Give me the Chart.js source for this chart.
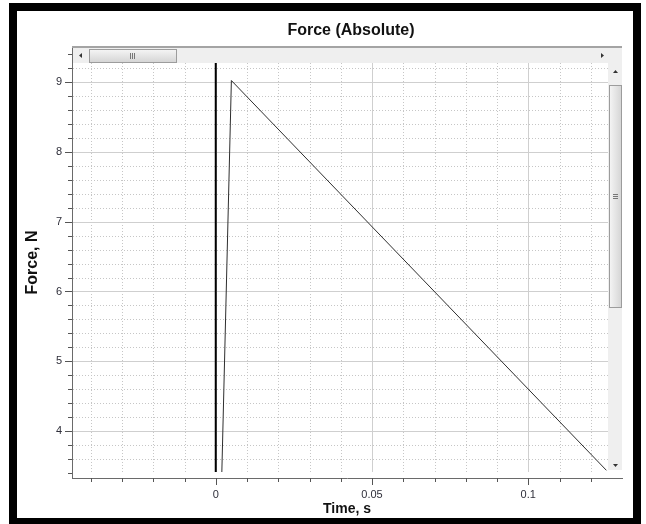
<!DOCTYPE html>
<html>
<head>
<meta charset="utf-8">
<script src="https://cdn.jsdelivr.net/npm/chart.js@4.4.0/dist/chart.umd.min.js"></script>
<style>
    html, body { margin: 0; padding: 0; background: #fff; }
    #wrap { position: absolute; left: 0; top: 0; width: 646px; height: 524px; }
</style>
</head>
<body>
<div id="wrap"><canvas id="grafica" width="646" height="524"></canvas></div>
<script>
// Valores (tiempo en s, fuerza en N)
const tiempo = [0.0019, 0.005, 0.125]
const fuerza = [3.33, 9.02, 3.44]

// Línea vertical negra en t = 0
const ceroX = [0, 0]
const ceroY = [3.3, 9.5]

// Etiquetas de los ejes
const ticksX = [0, 0.05, 0.1]
const ticksY = [4, 5, 6, 7, 8, 9]

const titulo = 'Force (Absolute)'
const tituloX = 'Time, s'
const tituloY = 'Force, N'

Chart.defaults.font.family = "'Liberation Sans', Arial, sans-serif"

// zona de la rejilla (el resto lo tapan las barras de desplazamiento)
function zonaGrid(a) {
    return { left: a.left + 1, right: a.right - 14, top: a.top + 16, bottom: a.bottom - 6 }
}

// Dibujo del marco, rejilla, barras de desplazamiento y marcas de los ejes
const decoracion = {
    id: 'decoracion',
    beforeDraw(chart) {
        const c = chart.ctx
        c.save()
        c.fillStyle = '#fff'
        c.fillRect(0, 0, chart.width, chart.height)
        c.fillStyle = '#000'
        c.fillRect(9, 3, 632, 8)
        c.fillRect(9, 3, 8, 521)
        c.fillRect(633, 3, 8, 521)
        c.fillRect(9, 518, 632, 6)
        c.restore()
    },
    beforeDatasetsDraw(chart) {
        const c = chart.ctx
        const a = chart.chartArea
        const g = zonaGrid(a)
        const x = chart.scales.x
        const y = chart.scales.y
        c.save()
        c.beginPath()
        c.rect(g.left, g.top, g.right - g.left, g.bottom - g.top)
        c.clip()
        c.lineWidth = 1
        x.ticks.forEach(t => {
            const px = Math.round(x.getPixelForValue(t.value)) + 0.5
            const mayor = ticksX.includes(t.value)
            c.strokeStyle = mayor ? '#cfcfcf' : '#c6c6c6'
            c.setLineDash(mayor ? [] : [1, 2])
            c.beginPath(); c.moveTo(px, g.top); c.lineTo(px, g.bottom); c.stroke()
        })
        y.ticks.forEach(t => {
            const py = Math.round(y.getPixelForValue(t.value)) + 0.5
            const mayor = ticksY.includes(t.value)
            c.strokeStyle = mayor ? '#cfcfcf' : '#c6c6c6'
            c.setLineDash(mayor ? [] : [1, 2])
            c.beginPath(); c.moveTo(g.left, py); c.lineTo(g.right, py); c.stroke()
        })
        c.restore()
    },
    afterDatasetsDraw(chart) {
        const c = chart.ctx
        const a = chart.chartArea
        const g = zonaGrid(a)
        c.save()
        // hueco blanco bajo la rejilla
        c.fillStyle = '#fff'
        c.fillRect(a.left + 1, g.bottom, a.right - a.left, a.bottom - g.bottom)
        // barra horizontal
        c.fillStyle = '#efefef'
        c.fillRect(a.left + 1, a.top, a.right - a.left - 1, 16)
        c.fillStyle = '#a4a4a4'
        c.fillRect(a.left, a.top - 1, a.right - a.left, 2)
        let grad = c.createLinearGradient(0, a.top + 2, 0, a.top + 15)
        grad.addColorStop(0, '#f6f6f6')
        grad.addColorStop(1, '#d6d6d6')
        c.fillStyle = grad
        c.fillRect(89, a.top + 2, 87, 13)
        c.strokeStyle = '#9c9c9c'
        c.strokeRect(89.5, a.top + 2.5, 87, 13)
        c.fillStyle = '#777'
        for (let i = 0; i < 3; i++) c.fillRect(130 + i * 2, a.top + 6, 1, 6)
        c.fillStyle = '#333'
        c.beginPath(); c.moveTo(79, a.top + 8.5); c.lineTo(82, a.top + 6); c.lineTo(82, a.top + 11); c.fill()
        c.beginPath(); c.moveTo(604, a.top + 8.5); c.lineTo(601, a.top + 6); c.lineTo(601, a.top + 11); c.fill()
        // barra vertical
        c.fillStyle = '#efefef'
        c.fillRect(g.right, g.top, 14, g.bottom - g.top - 2)
        grad = c.createLinearGradient(g.right + 1, 0, g.right + 13, 0)
        grad.addColorStop(0, '#f6f6f6')
        grad.addColorStop(1, '#d6d6d6')
        c.fillStyle = grad
        c.fillRect(g.right + 1, 85, 12, 222)
        c.strokeStyle = '#9c9c9c'
        c.strokeRect(g.right + 1.5, 85.5, 12, 222)
        c.fillStyle = '#777'
        for (let i = 0; i < 3; i++) c.fillRect(g.right + 5, 194 + i * 2, 5, 1)
        c.fillStyle = '#333'
        c.beginPath(); c.moveTo(g.right + 7.5, 70); c.lineTo(g.right + 5, 73); c.lineTo(g.right + 10, 73); c.fill()
        c.beginPath(); c.moveTo(g.right + 7.5, 467); c.lineTo(g.right + 5, 464); c.lineTo(g.right + 10, 464); c.fill()
        c.restore()
    },
    afterDraw(chart) {
        const c = chart.ctx
        const a = chart.chartArea
        const x = chart.scales.x
        const y = chart.scales.y
        c.save()
        c.strokeStyle = '#555'
        c.lineWidth = 1
        x.ticks.forEach(t => {
            const px = Math.round(x.getPixelForValue(t.value)) + 0.5
            const largo = ticksX.includes(t.value) ? 7 : 4
            c.beginPath(); c.moveTo(px, a.bottom); c.lineTo(px, a.bottom + largo); c.stroke()
        })
        y.ticks.forEach(t => {
            const py = Math.round(y.getPixelForValue(t.value)) + 0.5
            const largo = ticksY.includes(t.value) ? 7 : 4
            c.beginPath(); c.moveTo(a.left, py); c.lineTo(a.left - largo, py); c.stroke()
        })
        // título
        c.fillStyle = '#111'
        c.font = "bold 16px 'Liberation Sans', Arial, sans-serif"
        c.textAlign = 'center'
        c.textBaseline = 'middle'
        c.fillText(titulo, 351, 31)
        c.restore()
    }
}

let ctx = document.getElementById('grafica')
const config = {
    type: 'line',
    data: {
        datasets: [{
            label: 'Force',
            data: tiempo.map((t, i) => ({ x: t, y: fuerza[i] })),
            borderColor: '#2e2e2e',
            borderWidth: 1,
            pointRadius: 0,
            tension: 0
        },
        {
            label: 't = 0',
            data: ceroX.map((t, i) => ({ x: t, y: ceroY[i] })),
            borderColor: '#000',
            borderWidth: 2,
            pointRadius: 0
        }]
    },
    options: {
        responsive: false,
        animation: false,
        devicePixelRatio: 1,
        layout: { padding: { top: 47, left: 17, right: 24, bottom: 6 } },
        plugins: {
            legend: { display: false },
            tooltip: { enabled: false },
            title: { display: false }
        },
        scales: {
            x: {
                type: 'linear',
                min: -0.046,
                max: 0.13,
                afterBuildTicks: (scale) => {
                    const t = []
                    for (let i = -4; i <= 12; i++) t.push({ value: Math.round(i) / 100 })
                    scale.ticks = t
                },
                afterFit: (scale) => { scale.height = 40 },
                ticks: {
                    autoSkip: false,
                    maxRotation: 0,
                    padding: 3,
                    color: '#2f2f3a',
                    font: { size: 11 },
                    callback: (v) => ticksX.includes(v) ? String(v) : ''
                },
                grid: { drawOnChartArea: false, tickLength: 7, tickColor: 'transparent' },
                border: { color: '#6a6a6a', width: 1 },
                title: {
                    display: true,
                    text: tituloX,
                    color: '#111',
                    font: { size: 14, weight: 'bold' },
                    padding: { top: 0, bottom: 0 }
                }
            },
            y: {
                type: 'linear',
                min: 3.33,
                max: 9.5,
                afterBuildTicks: (scale) => {
                    const t = []
                    for (let i = 17; i <= 47; i++) t.push({ value: Math.round(i * 2) / 10 })
                    scale.ticks = t
                },
                afterFit: (scale) => { scale.width = 55 },
                ticks: {
                    autoSkip: false,
                    padding: 3,
                    color: '#2f2f3a',
                    font: { size: 11 },
                    callback: (v) => ticksY.includes(v) ? String(v) : ''
                },
                grid: { drawOnChartArea: false, tickLength: 7, tickColor: 'transparent' },
                border: { color: '#6a6a6a', width: 1 },
                title: {
                    display: true,
                    text: tituloY,
                    color: '#111',
                    font: { size: 16, weight: 'bold' },
                    padding: { top: 6, bottom: 0 }
                }
            }
        }
    },
    plugins: [decoracion]
}

let myChart = new Chart(ctx, config)
</script>
</body>
</html>
